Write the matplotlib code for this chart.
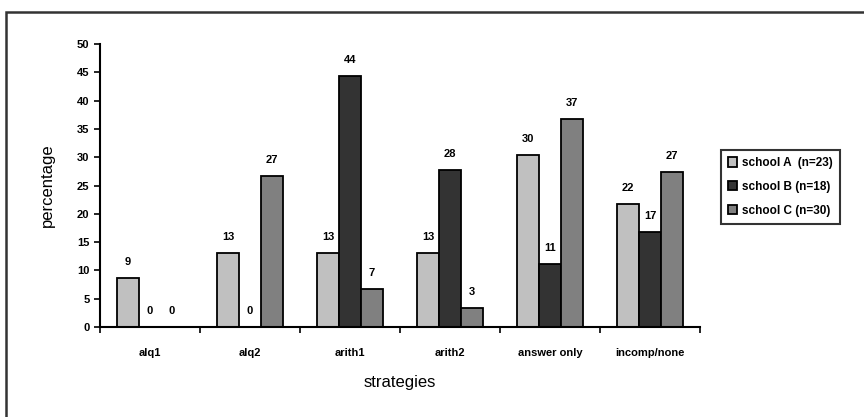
import matplotlib
matplotlib.use("Agg")
import matplotlib.pyplot as plt
from matplotlib.patches import Rectangle
import numpy as np

plt.rcParams['font.family'] = ['Liberation Sans', 'DejaVu Sans']

# datos
categories = ['alq1', 'alq2', 'arith1', 'arith2', 'answer only', 'incomp/none']
school_a = [8.7, 13.0, 13.0, 13.0, 30.4, 21.7]
school_b = [0, 0, 44.4, 27.8, 11.1, 16.7]
school_c = [0, 26.7, 6.7, 3.3, 36.7, 27.3]
labels_a = ['9', '13', '13', '13', '30', '22']
labels_b = ['0', '0', '44', '28', '11', '17']
labels_c = ['0', '27', '7', '3', '37', '27']
series_names = ['school A  (n=23)', 'school B (n=18)', 'school C (n=30)']
colors = ['#c0c0c0', '#333333', '#808080']

fig = plt.figure(figsize=(8.64, 4.17), dpi=100)
ax = fig.add_axes([100/864, 1-327/417, 600/864, 283/417])

x = np.arange(len(categories))
w = 0.22
series = [(school_a, labels_a), (school_b, labels_b), (school_c, labels_c)]
for i, (vals, labs) in enumerate(series):
    pos = x + (i - 1) * w
    bars = ax.bar(pos, vals, w, color=colors[i], edgecolor='black',
                  linewidth=1.3, label=series_names[i])
    for b, lab in zip(bars, labs):
        ax.annotate(lab, (b.get_x() + b.get_width()/2, b.get_height()),
                    xytext=(0, 8), textcoords='offset points',
                    ha='center', va='bottom', fontsize=8, fontweight='bold')

ax.set_xlim(-0.5, len(categories) - 0.5)
ax.set_ylim(0, 50)
ax.set_yticks(range(0, 51, 5))
ax.set_xticks(x)
ax.set_xticklabels(categories, fontsize=8, fontweight='bold')
ax.set_xticks(np.arange(-0.5, len(categories)), minor=True)
ax.tick_params(axis='x', which='major', length=0, pad=15)
ax.tick_params(axis='x', which='minor', length=4, width=1.2, direction='out')
ax.tick_params(axis='y', labelsize=8, length=4, width=1.2)
for t in ax.get_yticklabels():
    t.set_fontweight('bold')
for s in ['top', 'right']:
    ax.spines[s].set_visible(False)
for s in ['left', 'bottom']:
    ax.spines[s].set_linewidth(1.5)

ax.set_ylabel('percentage', fontsize=12, labelpad=16)
ax.set_xlabel('strategies', fontsize=12, labelpad=12)

leg = ax.legend(loc='center left', bbox_to_anchor=(1.025, 0.495), fontsize=8.5,
                frameon=True, fancybox=False, edgecolor='black',
                handlelength=0.8, handleheight=0.8, handletextpad=0.4,
                borderpad=0.6, labelspacing=1.0)
leg.get_frame().set_linewidth(1.5)
for t in leg.get_texts():
    t.set_fontweight('bold')

# marco exterior
fig.patches.append(Rectangle((6/864, -0.1), 1.2, 1 - 12/417 + 0.1,
                             transform=fig.transFigure, fill=False,
                             edgecolor='#333333', linewidth=1.8))

fig.savefig('out.png', dpi=100)
